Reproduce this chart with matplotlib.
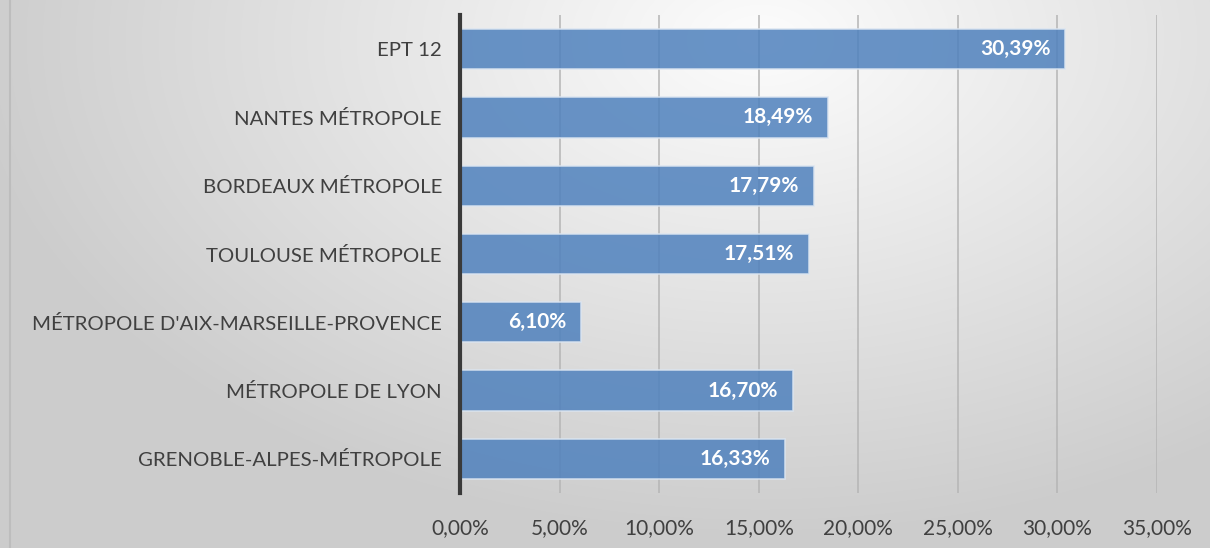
import numpy as np
import matplotlib
matplotlib.use("Agg")
import matplotlib.pyplot as plt
from matplotlib.ticker import FuncFormatter

categories = [
    "EPT 12",
    "NANTES MÉTROPOLE",
    "BORDEAUX MÉTROPOLE",
    "TOULOUSE MÉTROPOLE",
    "MÉTROPOLE D'AIX-MARSEILLE-PROVENCE",
    "MÉTROPOLE DE LYON",
    "GRENOBLE-ALPES-MÉTROPOLE",
]
values = [30.39, 18.49, 17.79, 17.51, 6.10, 16.70, 16.33]
xticks = [0, 5, 10, 15, 20, 25, 30, 35]

plt.rcParams['font.family'] = ['Lato', 'DejaVu Sans']

fig = plt.figure(figsize=(12.1, 5.48), dpi=100)

# radial gradient background
bg = fig.add_axes([0, 0, 1, 1], zorder=-10)
h, w = 548, 1210
yy, xx = np.mgrid[0:h, 0:w]
cx, cy = 760, 40
r = np.sqrt(((xx - cx) / 1.0) ** 2 + ((yy - cy) * 1.6) ** 2)
g = 0.99 - 0.19 * np.clip(r / 800, 0, 1)
bg.imshow(np.dstack([g, g, g]), aspect='auto', extent=[0, 1, 0, 1])
bg.set_xlim(0, 1)
bg.set_ylim(0, 1)
bg.axis('off')
bg.plot([10 / w, 10 / w], [0, 1], color='#bdbdbd', lw=1.5)

ax = fig.add_axes([460 / w, 1 - 493 / h, (1157 - 460) / w, (493 - 15) / h])
ax.set_facecolor('none')

y = np.arange(len(categories))
ax.barh(y, values, height=0.59, color='#4f81bd', alpha=0.85,
        edgecolor='#dbe5f1', linewidth=1.2, zorder=3)

for yi, v in zip(y, values):
    ax.text(v - 0.75, yi, f"{v:.2f}%".replace('.', ','), ha='right', va='center',
            color='white', fontsize=15, fontweight='bold', zorder=4)

ax.set_ylim(len(categories) - 0.5, -0.5)
ax.set_xlim(0, 35)
ax.set_yticks(y)
ax.set_yticklabels(categories, fontsize=14.7, color='#404040')
ax.set_xticks(xticks)
ax.xaxis.set_major_formatter(FuncFormatter(lambda v, p: f"{v:.2f}%".replace('.', ',')))
ax.tick_params(axis='x', labelsize=15, colors='#404040', length=0, pad=18)
ax.tick_params(axis='y', length=0, pad=13)

ax.grid(axis='x', color='#b5b5b5', linewidth=1.1, zorder=1)
for s in ['top', 'right', 'bottom']:
    ax.spines[s].set_visible(False)
ax.spines['left'].set_color('#3a3a3a')
ax.spines['left'].set_linewidth(3)
ax.spines['left'].set_zorder(5)

fig.savefig("out.png", dpi=100)
